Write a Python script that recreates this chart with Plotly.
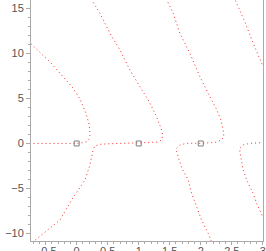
import plotly.graph_objects as go

# Branch 1: real-axis segment left of pole 0, then up-left branch
b1_x = [-0.76, -0.30, 0.00, 0.106, 0.161, 0.198, 0.214, 0.203, 0.177, 0.150, 0.053, -0.060, -0.430, -0.760]
b1_y = [0.00, 0.00, 0.01, 0.09, 0.20, 0.47, 0.90, 2.06, 2.80, 3.36, 4.95, 6.17, 9.07, 11.25]

# Branch 2: lower-left branch, real-axis segment through pole 1, then up-left
b2_x = [-0.765, -0.269, -0.081, 0.134, 0.214, 0.251, 0.267, 0.295, 0.375, 0.536, 0.992, 1.18, 1.31, 1.369,
        1.385, 1.369, 1.288, 1.224, 1.153, 1.019, 0.858, 0.697, 0.536, 0.375, 0.214]
b2_y = [-11.29, -8.51, -6.28, -4.06, -2.39, -1.20, -0.65, -0.28, -0.09, -0.03, 0.02, 0.11, 0.17, 0.39,
        0.83, 1.50, 2.98, 3.80, 4.84, 6.32, 8.18, 10.40, 12.26, 14.48, 16.30]

# Branch 3: lower branch, real-axis segment through pole 2, then up-left
b3_x = [2.195, 2.119, 2.013, 1.932, 1.852, 1.797, 1.695, 1.636, 1.610, 1.610, 1.663, 1.771, 1.997, 2.227,
        2.335, 2.372, 2.361, 2.324, 2.280, 2.254, 2.119, 1.986, 1.824, 1.663, 1.556, 1.430]
b3_y = [-11.29, -9.99, -8.51, -7.03, -5.54, -4.06, -2.73, -1.47, -0.91, -0.53, -0.17, 0.02, 0.02, 0.11,
        0.39, 0.76, 1.50, 2.61, 3.36, 3.80, 5.58, 7.43, 10.03, 12.26, 14.48, 16.30]

# Branch 4: lower-right branch joining real axis right of pole 2
b4_x = [3.016, 2.984, 2.899, 2.844, 2.738, 2.678, 2.641, 2.630, 2.630, 2.683, 2.791, 3.02]
b4_y = [-8.40, -7.95, -6.65, -5.54, -4.06, -2.73, -1.61, -0.95, -0.53, -0.17, 0.02, 0.10]

# Branch 5: upper-right branch
b5_x = [2.533, 2.710, 2.844, 2.952, 3.016]
b5_y = [16.30, 13.55, 11.15, 9.48, 8.40]

# Poles
pole_x = [0, 1, 2]
pole_y = [0, 0, 0]

x_ticks = [-0.5, 0, 0.5, 1, 1.5, 2, 2.5, 3]
x_tick_text = ["\u22120.5", "0", "0.5", "1", "1.5", "2", "2.5", "3"]
y_ticks = [-10, -5, 0, 5, 10, 15]
y_tick_text = ["\u221210", "\u22125", "0", "5", "10", "15"]

fig = go.Figure()
for bx, by in [(b1_x, b1_y), (b2_x, b2_y), (b3_x, b3_y), (b4_x, b4_y), (b5_x, b5_y)]:
    fig.add_trace(go.Scatter(x=bx, y=by, mode="lines",
                             line=dict(color="rgb(255,40,40)", width=1, dash="1px,3px"),
                             showlegend=False, hoverinfo="skip"))

fig.add_trace(go.Scatter(x=pole_x, y=pole_y, mode="markers",
                         marker=dict(symbol="square-open", size=5, color="#808080", line=dict(width=1)),
                         showlegend=False, hoverinfo="skip"))

axis_common = dict(showgrid=False, zeroline=False, showline=True, linecolor="#aaaaaa", linewidth=1,
                   mirror=True, ticks="outside", tickcolor="#aaaaaa", tickwidth=1,
                   automargin=False,
                   tickfont=dict(family="Liberation Sans, Arial, sans-serif", size=11, color="#555555"))

fig.update_layout(
    width=266, height=251,
    margin=dict(l=31, r=3, t=0, b=10),
    paper_bgcolor="white", plot_bgcolor="white",
    xaxis=dict(range=[-0.736, 3.003], tickvals=x_ticks, ticktext=x_tick_text,
               ticklen=3, ticklabelstandoff=-3,
               minor=dict(dtick=0.1, ticklen=2, tickcolor="#aaaaaa", ticks="outside"),
               **axis_common),
    yaxis=dict(range=[-10.85, 15.96], tickvals=y_ticks, ticktext=y_tick_text,
               ticklen=4,
               minor=dict(dtick=1, ticklen=2, tickcolor="#aaaaaa", ticks="outside"),
               **axis_common),
)

fig.write_html("out.html", config={"displayModeBar": False},
               post_script="document.body.style.margin='0px';document.body.style.overflow='hidden';")
